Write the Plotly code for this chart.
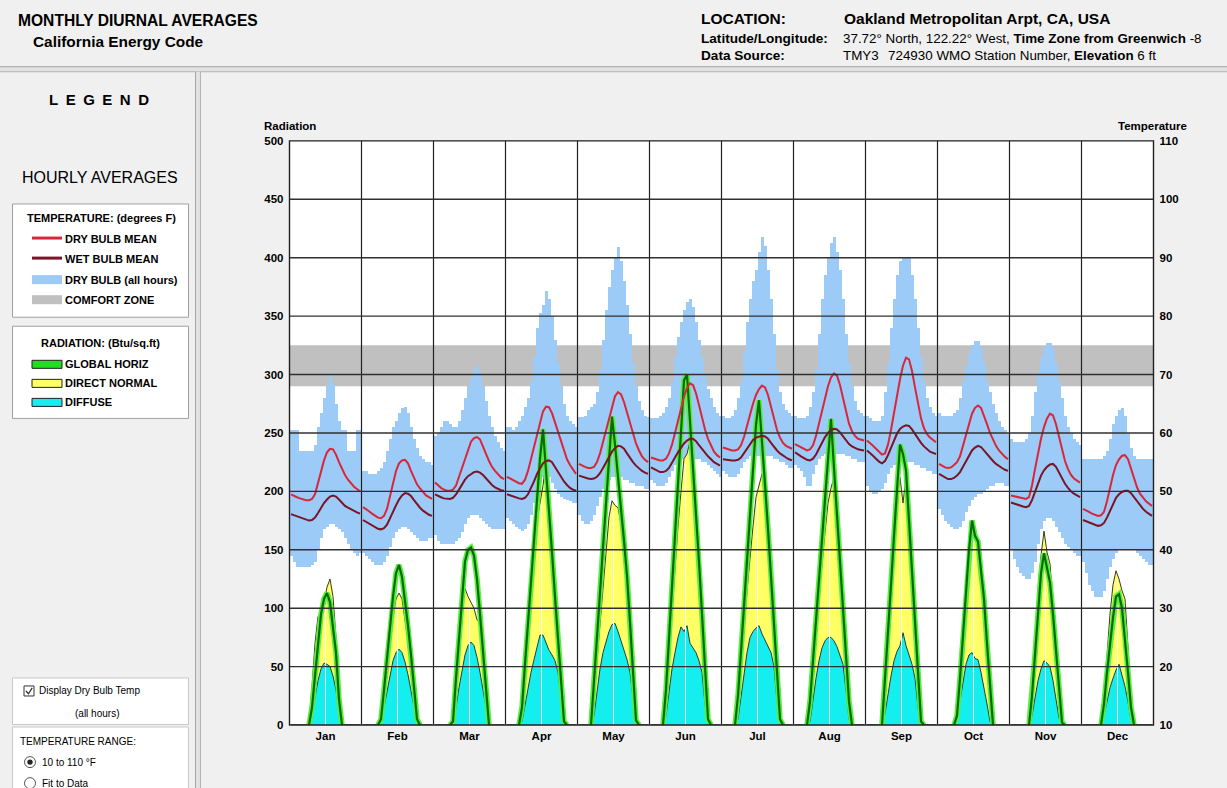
import plotly.graph_objects as go

W, H = 1227, 788
FONT = "Liberation Sans, Arial, sans-serif"

MONTHS = ["Jan", "Feb", "Mar", "Apr", "May", "Jun",
          "Jul", "Aug", "Sep", "Oct", "Nov", "Dec"]

# Hourly means (hour 0..23) per month, degrees F
db_mean = [
    [49.5, 49.2, 49.0, 48.8, 48.6, 48.5, 48.5, 48.7, 49.5, 51.5, 53.5, 55.3, 56.7, 57.3, 57.2, 56.3, 55.0, 53.8, 52.8, 52.0, 51.4, 50.8, 50.4, 50.0],
    [47.3, 47.0, 46.6, 46.2, 45.8, 45.5, 45.4, 45.8, 47.0, 49.0, 51.5, 53.5, 54.8, 55.3, 55.4, 54.8, 53.5, 52.2, 51.2, 50.5, 49.8, 49.3, 49.0, 48.7],
    [51.5, 51.0, 50.6, 50.3, 50.1, 50.1, 50.3, 51.0, 52.5, 54.2, 55.8, 57.3, 58.5, 59.1, 59.3, 58.9, 57.8, 56.4, 55.2, 54.2, 53.5, 52.9, 52.4, 52.1],
    [52.5, 52.2, 51.9, 51.6, 51.4, 51.3, 52.0, 53.5, 55.5, 57.8, 60.0, 62.0, 63.7, 64.5, 64.4, 63.4, 61.8, 60.0, 58.3, 56.8, 55.5, 54.5, 53.7, 53.0],
    [54.7, 54.4, 54.2, 54.0, 54.0, 54.2, 55.0, 56.5, 58.5, 60.7, 62.8, 64.8, 66.3, 67.0, 66.6, 65.3, 63.5, 61.5, 59.7, 58.2, 57.0, 56.0, 55.4, 55.0],
    [55.8, 55.6, 55.4, 55.3, 55.3, 55.6, 56.5, 58.0, 60.0, 62.2, 64.3, 66.2, 67.7, 68.5, 68.2, 66.8, 64.8, 62.6, 60.6, 59.0, 57.8, 56.8, 56.2, 55.8],
    [57.5, 57.3, 57.1, 57.0, 57.0, 57.2, 57.9, 59.3, 61.2, 63.2, 65.0, 66.5, 67.5, 68.1, 67.8, 66.5, 64.6, 62.5, 60.5, 59.2, 58.3, 57.8, 57.5, 57.3],
    [58.1, 57.8, 57.5, 57.2, 57.0, 57.2, 57.9, 59.5, 61.6, 63.8, 66.0, 68.0, 69.5, 70.2, 69.8, 68.2, 66.0, 63.6, 61.6, 60.3, 59.5, 59.0, 58.8, 58.7],
    [58.7, 58.3, 57.8, 57.3, 56.8, 56.3, 56.5, 58.0, 60.5, 63.5, 66.5, 69.2, 71.5, 72.9, 72.6, 70.6, 67.8, 65.0, 62.5, 60.8, 59.8, 59.2, 58.8, 58.4],
    [54.7, 54.4, 54.1, 54.0, 54.1, 54.5, 55.0, 56.0, 57.8, 59.8, 61.8, 63.3, 64.3, 64.7, 64.3, 63.0, 61.5, 60.0, 58.8, 57.8, 57.0, 56.4, 55.9, 55.5],
    [49.3, 49.2, 49.0, 48.9, 48.8, 48.7, 49.0, 51.0, 53.8, 56.6, 59.0, 61.0, 62.5, 63.3, 63.0, 61.5, 59.3, 57.0, 55.2, 53.8, 52.8, 52.2, 51.8, 51.5],
    [47.0, 46.8, 46.5, 46.2, 46.0, 45.8, 45.9, 46.5, 48.3, 50.6, 52.8, 54.5, 55.5, 56.1, 56.2, 55.5, 54.0, 52.3, 50.7, 49.6, 48.9, 48.3, 47.9, 47.5],
]

wb_mean = [
    [46.1, 45.9, 45.7, 45.5, 45.3, 45.1, 45.0, 45.1, 45.5, 46.3, 47.2, 48.0, 48.6, 49.1, 49.3, 49.1, 48.6, 48.0, 47.5, 47.2, 46.9, 46.6, 46.4, 46.2],
    [45.1, 44.8, 44.4, 44.1, 43.8, 43.6, 43.5, 43.7, 44.3, 45.3, 46.5, 47.6, 48.6, 49.3, 49.7, 49.6, 49.2, 48.5, 47.8, 47.2, 46.7, 46.3, 46.0, 45.8],
    [49.5, 49.2, 49.0, 48.8, 48.7, 48.7, 48.9, 49.5, 50.3, 51.2, 52.0, 52.6, 53.0, 53.3, 53.4, 53.2, 52.8, 52.2, 51.6, 51.1, 50.7, 50.4, 50.2, 50.1],
    [49.5, 49.3, 49.1, 48.9, 48.8, 48.7, 48.9, 49.5, 50.5, 51.7, 53.0, 54.0, 54.8, 55.2, 55.3, 55.0, 54.2, 53.2, 52.4, 51.7, 51.1, 50.6, 50.3, 50.1],
    [52.7, 52.5, 52.3, 52.2, 52.1, 52.2, 52.5, 53.1, 54.0, 55.0, 56.0, 56.8, 57.4, 57.8, 57.7, 57.3, 56.5, 55.7, 55.0, 54.4, 53.9, 53.5, 53.2, 53.0],
    [54.1, 53.8, 53.5, 53.3, 53.3, 53.5, 54.0, 54.8, 55.8, 56.7, 57.5, 58.2, 58.7, 59.0, 59.0, 58.6, 57.9, 57.2, 56.6, 56.0, 55.5, 55.0, 54.7, 54.4],
    [55.5, 55.4, 55.3, 55.3, 55.3, 55.4, 55.8, 56.5, 57.3, 58.1, 58.8, 59.2, 59.4, 59.5, 59.4, 59.0, 58.3, 57.6, 57.0, 56.5, 56.1, 55.8, 55.5, 55.3],
    [56.7, 56.3, 56.0, 55.7, 55.4, 55.3, 55.6, 56.3, 57.3, 58.3, 59.3, 60.0, 60.5, 60.7, 60.6, 60.1, 59.4, 58.7, 58.1, 57.7, 57.4, 57.2, 57.1, 57.0],
    [57.0, 56.6, 56.1, 55.6, 55.1, 54.8, 55.2, 56.2, 57.5, 58.8, 59.9, 60.7, 61.1, 61.3, 61.2, 60.6, 59.8, 59.0, 58.3, 57.7, 57.2, 56.8, 56.6, 56.4],
    [53.0, 52.7, 52.3, 52.1, 52.1, 52.3, 52.7, 53.3, 54.2, 55.2, 56.2, 57.0, 57.5, 57.8, 57.6, 57.0, 56.3, 55.7, 55.2, 54.7, 54.3, 54.0, 53.7, 53.5],
    [48.1, 47.9, 47.7, 47.5, 47.4, 47.3, 47.5, 48.5, 50.0, 51.5, 52.7, 53.6, 54.2, 54.6, 54.7, 54.2, 53.2, 52.2, 51.3, 50.6, 50.0, 49.6, 49.3, 49.0],
    [45.1, 44.9, 44.6, 44.4, 44.2, 44.1, 44.2, 44.6, 45.5, 46.7, 47.9, 48.9, 49.5, 49.9, 50.1, 50.1, 49.7, 49.0, 48.3, 47.6, 47.0, 46.5, 46.1, 45.8],
]

# Hourly extremes of dry bulb over all days of the month, degrees F
db_max = [
    [60.5, 60.5, 60.5, 57, 57, 57, 57, 57, 58, 61, 63.5, 66, 68, 70, 68.5, 65, 62, 60.5, 60.5, 57, 57, 57, 60.5, 60.5],
    [53.5, 53.5, 53, 53, 53, 53.5, 54, 55, 57, 59, 61, 62, 63.5, 64.3, 64.5, 63.5, 61, 59, 57.5, 56, 55.5, 55, 55, 54.5],
    [59.5, 60, 61, 62, 62, 61.5, 61, 61, 62, 64, 66, 68, 69.5, 71, 71.5, 70.5, 68, 65.5, 63, 61, 59.5, 58.5, 57.5, 57],
    [61, 61, 60.5, 61, 62, 63, 64.5, 66, 69, 73, 78, 80.5, 82, 84.4, 83, 80, 76, 72, 68, 65, 63, 62, 61.5, 61],
    [62.7, 62.7, 63, 64, 64.4, 65, 67, 71, 76, 81, 85, 88, 90, 91.8, 89.5, 86, 82, 77, 72, 68, 65.5, 64, 63, 62.7],
    [62.5, 62.5, 62.5, 63, 63.5, 64.5, 66, 69, 73, 76.5, 79, 81, 82.5, 83, 81.5, 79, 76, 73, 70, 67.5, 66, 64.5, 63.5, 63],
    [63, 62.5, 62.5, 63, 64, 66, 69, 74, 79, 83, 86, 88, 91, 93.5, 92, 88, 83, 77, 71, 67, 65, 64, 63.5, 63],
    [63, 62.5, 62.5, 62.5, 63, 64.5, 67, 71, 77, 83, 87, 90, 92.5, 93.5, 91, 88, 83, 77, 72, 68, 65.5, 64, 63.5, 63],
    [63, 62.5, 62, 62, 62, 63, 67, 72, 78, 83, 87, 89.5, 90, 90, 90, 87, 83, 78, 73, 69, 66, 64.5, 63.5, 63],
    [63.5, 63, 63, 63, 63, 63.5, 64, 66, 69, 71.5, 73.5, 75, 75.8, 75.8, 74.5, 72, 69, 67, 65, 63.5, 62, 61, 60.5, 60],
    [59, 58.5, 58.5, 58.5, 58.5, 59, 60, 63, 67, 70.5, 73, 74.5, 75.5, 75.5, 74.5, 72, 69, 66, 63, 61, 60, 59, 58.5, 58],
    [55.5, 55.5, 55.5, 55.5, 55.5, 55.5, 55.5, 56, 57, 59, 61.5, 63, 64, 64.3, 63, 60, 57.5, 56, 55.5, 55.5, 55.5, 55.5, 55.5, 55.5],
]

db_min = [
    [39, 38, 37, 37, 37, 37, 37, 37.5, 38, 40, 42, 43.5, 44, 44.5, 44.5, 44, 43.5, 43, 42, 41, 40, 39.5, 39, 39.5],
    [39.5, 39, 38.5, 38, 37.5, 37.5, 37.5, 38, 39, 40.5, 42, 43, 43.5, 44, 44, 43.5, 43, 42.5, 42, 41.5, 41.5, 41.5, 42, 42],
    [42.5, 41.5, 41, 41, 41, 41, 41, 41.5, 42, 43, 44.5, 45.5, 46, 46, 46, 45.5, 45, 44.5, 44, 43.5, 43.5, 43.5, 43.5, 43.5],
    [45.5, 45, 44.5, 44, 43.5, 43.3, 43.5, 44.5, 46, 48, 50, 51.5, 52.5, 52.8, 52.5, 51.5, 50.5, 49.5, 49, 48.7, 48.5, 48.3, 48, 48],
    [46, 45, 44.5, 44.5, 45, 46, 47.5, 49, 50.5, 51.5, 52, 52.5, 52.5, 52.5, 52.5, 52, 52, 51.5, 51.5, 51, 51, 51, 50.5, 50.5],
    [52, 51.5, 51, 51, 51, 51.5, 52.5, 53.5, 54.5, 55, 55.5, 55.5, 55.5, 55.5, 55.5, 55.5, 55.5, 55, 55, 54.5, 54, 53.5, 53, 52.5],
    [53.5, 53, 52.5, 52.5, 52.5, 53, 54, 55, 55.5, 56, 56, 56, 56, 56, 56, 56, 56, 55.5, 55.5, 55, 55, 54.5, 54, 54],
    [54.5, 54, 53.5, 52.5, 51, 51, 53, 54.5, 55.5, 56, 56.5, 56.5, 56.5, 56.5, 56.5, 56.5, 56.5, 56, 56, 55.5, 55.5, 55, 55, 55],
    [51, 50, 49.5, 49.5, 50, 50.5, 51.5, 53, 54, 54.5, 55, 55, 55, 55, 55, 55, 54.5, 54.5, 54, 54, 53.5, 53.5, 53, 53],
    [47, 46, 45, 44.5, 44, 43.5, 43.5, 44, 45, 46.5, 47.5, 48.5, 49, 49.5, 49.5, 50, 50.5, 51, 51, 51.5, 51.5, 51.5, 51, 51],
    [40, 38.5, 37, 36, 35.5, 35, 35, 36, 38, 41, 43.5, 45, 45.5, 45.5, 45, 44, 43, 42, 41, 40.5, 40, 39.5, 39, 39],
    [38, 36, 34, 33, 32, 32, 32, 33, 35, 37, 38.5, 39.5, 40, 40, 40, 40, 40, 40, 39.5, 39, 38.5, 38, 37.5, 37.5],
]

# Hourly radiation averages per month, Btu/sq.ft
rad_global = [
    [0, 0, 0, 0, 0, 0, 0, 15, 42, 70, 95, 108, 113, 105, 85, 62, 22, 0, 0, 0, 0, 0, 0, 0],
    [0, 0, 0, 0, 0, 0, 5, 30, 58, 85, 110, 130, 137, 127, 108, 85, 60, 33, 5, 0, 0, 0, 0, 0],
    [0, 0, 0, 0, 0, 0, 3, 40, 75, 108, 140, 150, 152, 145, 125, 95, 62, 25, 0, 0, 0, 0, 0, 0],
    [0, 0, 0, 0, 0, 15, 52, 88, 124, 160, 195, 228, 253, 220, 185, 148, 110, 72, 35, 3, 0, 0, 0, 0],
    [0, 0, 0, 0, 0, 35, 74, 113, 152, 191, 230, 264, 240, 215, 185, 158, 128, 88, 45, 4, 0, 0, 0, 0],
    [0, 0, 0, 0, 0, 30, 74, 117, 160, 204, 248, 295, 300, 262, 222, 180, 140, 95, 48, 5, 0, 0, 0, 0],
    [0, 0, 0, 0, 0, 25, 63, 102, 141, 180, 218, 257, 278, 245, 206, 168, 129, 90, 52, 5, 0, 0, 0, 0],
    [0, 0, 0, 0, 0, 20, 55, 90, 125, 160, 195, 230, 262, 220, 180, 140, 100, 60, 20, 0, 0, 0, 0, 0],
    [0, 0, 0, 0, 0, 0, 37, 79, 120, 162, 203, 240, 232, 218, 175, 130, 88, 42, 3, 0, 0, 0, 0, 0],
    [0, 0, 0, 0, 0, 0, 8, 40, 75, 115, 150, 175, 162, 157, 130, 108, 70, 30, 0, 0, 0, 0, 0, 0],
    [0, 0, 0, 0, 0, 0, 0, 25, 60, 95, 130, 147, 135, 122, 95, 62, 30, 2, 0, 0, 0, 0, 0, 0],
    [0, 0, 0, 0, 0, 0, 0, 18, 45, 70, 92, 110, 112, 100, 75, 45, 15, 0, 0, 0, 0, 0, 0, 0],
]

rad_direct = [
    [0, 0, 0, 0, 0, 0, 0, 33, 70, 93, 95, 105, 118, 125, 110, 75, 28, 0, 0, 0, 0, 0, 0, 0],
    [0, 0, 0, 0, 0, 0, 3, 25, 50, 72, 92, 108, 113, 108, 92, 72, 50, 26, 4, 0, 0, 0, 0, 0],
    [0, 0, 0, 0, 0, 0, 3, 35, 70, 100, 117, 110, 105, 100, 90, 88, 55, 20, 0, 0, 0, 0, 0, 0],
    [0, 0, 0, 0, 0, 5, 35, 75, 110, 145, 175, 190, 205, 225, 185, 148, 108, 68, 30, 2, 0, 0, 0, 0],
    [0, 0, 0, 0, 0, 25, 55, 90, 120, 150, 178, 192, 188, 186, 172, 158, 125, 85, 42, 0, 0, 0, 0, 0],
    [0, 0, 0, 0, 0, 25, 62, 100, 135, 170, 200, 228, 232, 243, 215, 180, 140, 92, 42, 0, 0, 0, 0, 0],
    [0, 0, 0, 0, 0, 15, 45, 80, 115, 145, 170, 195, 205, 215, 190, 160, 135, 95, 45, 0, 0, 0, 0, 0],
    [0, 0, 0, 0, 0, 12, 40, 75, 110, 140, 165, 190, 203, 212, 180, 150, 115, 70, 25, 0, 0, 0, 0, 0],
    [0, 0, 0, 0, 0, 0, 30, 70, 115, 160, 200, 212, 190, 212, 170, 125, 82, 38, 0, 0, 0, 0, 0, 0],
    [0, 0, 0, 0, 0, 0, 10, 45, 82, 120, 150, 168, 165, 160, 135, 110, 72, 30, 0, 0, 0, 0, 0, 0],
    [0, 0, 0, 0, 0, 0, 0, 30, 75, 115, 145, 166, 148, 138, 105, 70, 30, 0, 0, 0, 0, 0, 0, 0],
    [0, 0, 0, 0, 0, 0, 0, 25, 60, 95, 120, 132, 125, 115, 108, 70, 25, 0, 0, 0, 0, 0, 0, 0],
]

rad_diffuse = [
    [0, 0, 0, 0, 0, 0, 0, 10, 25, 38, 48, 53, 52, 50, 42, 30, 12, 0, 0, 0, 0, 0, 0, 0],
    [0, 0, 0, 0, 0, 0, 2, 15, 30, 43, 55, 62, 65, 62, 54, 43, 30, 15, 2, 0, 0, 0, 0, 0],
    [0, 0, 0, 0, 0, 0, 2, 15, 32, 47, 60, 68, 71, 68, 58, 45, 30, 12, 0, 0, 0, 0, 0, 0],
    [0, 0, 0, 0, 0, 3, 18, 32, 45, 56, 68, 77, 77, 70, 64, 60, 55, 45, 25, 3, 0, 0, 0, 0],
    [0, 0, 0, 0, 0, 8, 30, 48, 62, 72, 80, 86, 87, 80, 72, 64, 56, 45, 22, 2, 0, 0, 0, 0],
    [0, 0, 0, 0, 0, 8, 30, 48, 62, 75, 84, 80, 85, 70, 66, 62, 55, 45, 18, 0, 0, 0, 0, 0],
    [0, 0, 0, 0, 0, 5, 25, 45, 62, 75, 80, 83, 85, 78, 73, 68, 62, 50, 20, 0, 0, 0, 0, 0],
    [0, 0, 0, 0, 0, 3, 22, 40, 55, 66, 72, 75, 75, 72, 67, 60, 52, 30, 5, 0, 0, 0, 0, 0],
    [0, 0, 0, 0, 0, 0, 10, 28, 42, 55, 63, 68, 79, 68, 60, 52, 40, 15, 0, 0, 0, 0, 0, 0],
    [0, 0, 0, 0, 0, 0, 5, 22, 38, 52, 60, 62, 57, 56, 45, 33, 18, 3, 0, 0, 0, 0, 0, 0],
    [0, 0, 0, 0, 0, 0, 0, 8, 22, 38, 48, 55, 53, 50, 38, 22, 6, 0, 0, 0, 0, 0, 0, 0],
    [0, 0, 0, 0, 0, 0, 0, 8, 20, 32, 40, 47, 52, 42, 33, 20, 5, 0, 0, 0, 0, 0, 0, 0],
]

COMFORT_ZONE = (68, 75)
TEMP_RANGE = (10, 110)
RAD_RANGE = (0, 500)

C_BAND = "#9CCBF7"
C_COMFORT = "#C0C0C0"
C_DB = "#D9263A"
C_WB = "#7A1426"
C_DIRECT = "#FFFF66"
C_DIFFUSE = "#14EEEE"
C_GLOBAL = "#0B6A0B"
C_GLOW = "#55F03C"

# vertical placement: page rows are laid out through this mapping so that
# the rendered page rows land where intended
ROW_SCALE, ROW_OFFSET = 0.9828, 6.4


def row(y):
    return (y - ROW_OFFSET) / ROW_SCALE


def px(x):
    return x / W


def py(y):
    return 1 - row(y) / H


def hour_x(m, h):
    return m * 24 + h + 0.5


def month_series(values):
    xs, ys = [], []
    for m in range(12):
        for h in range(24):
            xs.append(hour_x(m, h))
            ys.append(values[m][h])
        xs.append(None)
        ys.append(None)
    return xs, ys


def daylight_series(values):
    # keep daylight hours plus the zero hour on each side
    xs, ys = [], []
    for m in range(12):
        lit = [h for h in range(24) if values[m][h] > 0]
        first, last = max(lit[0] - 1, 0), min(lit[-1] + 1, 23)
        for h in range(first, last + 1):
            xs.append(hour_x(m, h))
            ys.append(values[m][h])
        xs.append(None)
        ys.append(None)
    return xs, ys


fig = go.Figure()

# dry bulb spread over all hours: one floating bar per hour (temperature axis)
bx, bbase, bh = [], [], []
for m in range(12):
    for h in range(24):
        bx.append(hour_x(m, h))
        bbase.append(db_min[m][h])
        bh.append(db_max[m][h] - db_min[m][h])
fig.add_trace(go.Bar(x=bx, y=bh, base=bbase, width=1.0, yaxis="y",
                     marker=dict(color=C_BAND, line=dict(width=0)),
                     hoverinfo="skip", showlegend=False))

# radiation (radiation axis)
dx, dy = month_series(rad_direct)
fig.add_trace(go.Scatter(x=dx, y=dy, yaxis="y2", mode="lines", fill="toself",
                         fillcolor=C_DIRECT, line=dict(color="#3A3A22", width=1),
                         hoverinfo="skip", showlegend=False))
fx, fy = month_series(rad_diffuse)
fig.add_trace(go.Scatter(x=fx, y=fy, yaxis="y2", mode="lines", fill="toself",
                         fillcolor=C_DIFFUSE, line=dict(color="#1F3F3F", width=1),
                         hoverinfo="skip", showlegend=False))

# noon marks inside the filled areas
nx, ny = [], []
for m in range(12):
    top = max((rad_direct[m][11] + rad_direct[m][12]) / 2,
              (rad_diffuse[m][11] + rad_diffuse[m][12]) / 2)
    nx += [m * 24 + 12, m * 24 + 12, None]
    ny += [0, top * 0.97, None]
fig.add_trace(go.Scatter(x=nx, y=ny, yaxis="y2", mode="lines",
                         line=dict(color="white", width=1),
                         hoverinfo="skip", showlegend=False))

gx, gy = daylight_series(rad_global)
fig.add_trace(go.Scatter(x=gx, y=gy, yaxis="y2", mode="lines",
                         line=dict(color=C_GLOW, width=5.5),
                         hoverinfo="skip", showlegend=False))
fig.add_trace(go.Scatter(x=gx, y=gy, yaxis="y2", mode="lines",
                         line=dict(color=C_GLOBAL, width=2.2),
                         hoverinfo="skip", showlegend=False))

# temperature means (hidden overlay temperature axis, drawn on top)
wx, wy = month_series(wb_mean)
fig.add_trace(go.Scatter(x=wx, y=wy, yaxis="y3", mode="lines",
                         line=dict(color=C_WB, width=2),
                         hoverinfo="skip", showlegend=False))
mx, my = month_series(db_mean)
fig.add_trace(go.Scatter(x=mx, y=my, yaxis="y3", mode="lines",
                         line=dict(color=C_DB, width=2),
                         hoverinfo="skip", showlegend=False))

tick_font = dict(family=FONT, size=11.5, color="black", weight="bold")

fig.update_layout(
    width=W, height=H, margin=dict(l=0, r=0, t=0, b=0),
    paper_bgcolor="#F0F0F0", plot_bgcolor="white",
    showlegend=False, hovermode=False, barmode="overlay", bargap=0,
    xaxis=dict(domain=[289.5 / W, 1153.5 / W], range=[0, 288],
               tickvals=[m * 24 + 12 for m in range(12)], ticktext=MONTHS,
               showgrid=False, zeroline=False, ticks="", showline=False,
               ticklabelstandoff=2, tickfont=tick_font, fixedrange=True),
    yaxis=dict(domain=[py(724), py(141)], range=list(TEMP_RANGE),
               tickvals=list(range(10, 111, 10)), side="right",
               showgrid=False, zeroline=False, showline=False, ticks="",
               ticklabelstandoff=5, tickfont=tick_font, fixedrange=True),
    yaxis2=dict(overlaying="y", side="left", range=list(RAD_RANGE),
                tickvals=list(range(0, 501, 50)), showgrid=False,
                zeroline=False, showline=False, ticks="",
                ticklabelstandoff=5, tickfont=tick_font, fixedrange=True),
    yaxis3=dict(overlaying="y", range=list(TEMP_RANGE), visible=False,
                fixedrange=True),
)

shapes = []
# comfort zone band
shapes.append(dict(type="rect", xref="x domain", yref="y", x0=0, x1=1,
                   y0=COMFORT_ZONE[0], y1=COMFORT_ZONE[1], fillcolor=C_COMFORT,
                   line=dict(width=0), layer="below"))
# grid drawn over the data
for m in range(1, 12):
    shapes.append(dict(type="line", xref="x", yref="y domain", x0=m * 24, x1=m * 24,
                       y0=0, y1=1, line=dict(color="#202020", width=1.2), layer="above"))
for v in range(50, 500, 50):
    shapes.append(dict(type="line", xref="x domain", yref="y2", x0=0, x1=1,
                       y0=v, y1=v, line=dict(color="#303030", width=1.4), layer="above"))
shapes.append(dict(type="rect", xref="x domain", yref="y domain", x0=0, x1=1,
                   y0=0, y1=1, line=dict(color="#202020", width=1.4), layer="above"))


def prect(x0, y0, x1, y1, fill, line="#A0A0A0", lw=1):
    shapes.append(dict(type="rect", xref="paper", yref="paper",
                       x0=px(x0), x1=px(x1), y0=py(y1), y1=py(y0),
                       fillcolor=fill, line=dict(color=line, width=lw), layer="above"))


def pline(x0, y0, x1, y1, color, lw=1):
    shapes.append(dict(type="line", xref="paper", yref="paper",
                       x0=px(x0), x1=px(x1), y0=py(y0), y1=py(y1),
                       line=dict(color=color, width=lw), layer="above"))


def pcircle(cx, cy, r, fill, line=None, lw=1):
    shapes.append(dict(type="circle", xref="paper", yref="paper",
                       x0=px(cx - r), x1=px(cx + r), y0=py(cy + r), y1=py(cy - r),
                       fillcolor=fill,
                       line=dict(color=line or fill, width=lw if line else 0),
                       layer="above"))


# window separators
prect(0, 66.5, W, 72.5, "#E2E2E2", line="#E2E2E2", lw=0)
pline(0, 67, W, 67, "#A6A6A6")
pline(0, 72, W, 72, "#B4B4B4")
prect(195, 72, 201, 800, "#E2E2E2", line="#E2E2E2", lw=0)
pline(195.5, 72, 195.5, 800, "#A6A6A6")
pline(200.5, 72, 200.5, 800, "#B4B4B4")

# legend boxes
prect(12.5, 204, 188.5, 317, "white")
prect(12.5, 326, 188.5, 418, "white")
pline(32, 238, 62, 238, C_DB, 3)
pline(32, 258, 62, 258, C_WB, 3)
prect(32, 275, 62, 284, C_BAND, line=C_BAND, lw=0)
prect(32, 295, 62, 304, C_COMFORT, line=C_COMFORT, lw=0)
prect(32, 360, 62, 368, "#22DD22", line="#202020", lw=1)
prect(32, 379, 62, 387, C_DIRECT, line="#202020", lw=1)
prect(32, 398, 62, 406, C_DIFFUSE, line="#202020", lw=1)

# controls
prect(12.5, 677, 188.5, 723.5, "white", line="#C8C8C8")
prect(12.5, 726, 188.5, 800, "white", line="#C8C8C8")
prect(24, 685, 34, 695, "white", line="#333333")
shapes.append(dict(type="path", xref="paper", yref="paper",
                   path=f"M {px(26)},{py(690)} L {px(28.5)},{py(692.8)} L {px(32.2)},{py(687)}",
                   line=dict(color="#333333", width=1.3), layer="above"))
pcircle(30, 761, 5.5, "white", "#555555")
pcircle(30, 761, 2.7, "#222222")
pcircle(30, 782, 5.5, "white", "#555555")

fig.update_layout(shapes=shapes)


def label(x, y, text, size=11, bold=False, anchor="left", color="black", family=FONT):
    fig.add_annotation(x=px(x), y=py(y), xref="paper", yref="paper", text=text,
                       showarrow=False, xanchor=anchor, yanchor="middle",
                       borderpad=0,
                       font=dict(family=family, size=size, color=color,
                                 weight="bold" if bold else "normal"))


# header
label(17, 20.5, "MONTHLY DIURNAL AVERAGES", 15.6, True)
label(32, 41.5, "California Energy Code", 15.4, True)
label(700, 19, "LOCATION:", 15.5, True)
label(843, 19, "Oakland Metropolitan Arpt, CA, USA", 15.5, True)
label(700, 38.5, "Latitude/Longitude:", 13.6, True)
label(842, 38.5, "37.72° North, 122.22° West, <b>Time Zone from Greenwich</b> -8", 13.4)
label(700, 56, "Data Source:", 13.6, True)
label(842, 56, "TMY3", 13.4)
label(887, 56, "724930 WMO Station Number, <b>Elevation</b> 6 ft", 13.4)

# legend text
label(99, 100, "L\u2002E\u2002G\u2002E\u2002N\u2002D", 15, True, "center")
label(100, 178, "HOURLY AVERAGES", 16, False, "center")
label(101, 218, "TEMPERATURE: (degrees F)", 11, True, "center")
label(64, 238.5, "DRY BULB MEAN", 11, True)
label(64, 258.5, "WET BULB MEAN", 11, True)
label(64, 279.5, "DRY BULB (all hours)", 11, True)
label(64, 299.5, "COMFORT ZONE", 11, True)
label(100, 343, "RADIATION: (Btu/sq.ft)", 11, True, "center")
label(64, 363.5, "GLOBAL HORIZ", 11, True)
label(64, 382.5, "DIRECT NORMAL", 11, True)
label(64, 401.5, "DIFFUSE", 11, True)

# controls text
label(38, 690, "Display Dry Bulb Temp", 10)
label(97, 712, "(all hours)", 10, False, "center")
label(19, 740, "TEMPERATURE RANGE:", 10)
label(41, 761, "10 to 110 °F", 10)
label(41, 782, "Fit to Data", 10)

# axis titles
label(263, 126.5, "Radiation", 11.5, True)
label(1117, 126.5, "Temperature", 11.5, True)

fig.write_html("out.html", config={"displayModeBar": False})
